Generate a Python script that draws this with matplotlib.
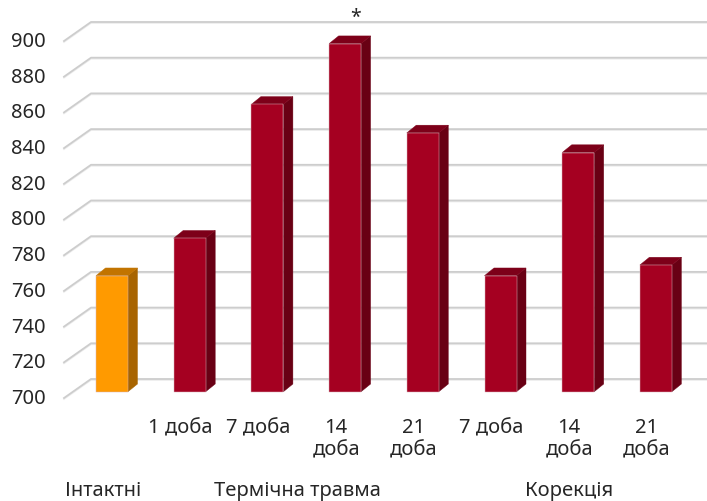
import matplotlib.pyplot as plt
from matplotlib.patches import Polygon

plt.rcParams["font.family"] = ["Noto Sans", "DejaVu Sans"]

# ----------------------------------------------------------
# Data
# ----------------------------------------------------------

tick_labels = ["", "1 доба", "7 доба", "14\nдоба", "21\nдоба", "7 доба", "14\nдоба", "21\nдоба"]
values = [765, 786, 861, 895, 845, 765, 834, 771]
is_intact = [True, False, False, False, False, False, False, False]
groups = ["Інтактні", "Термічна травма", "Корекція"]
group_members = [[0], [1, 2, 3, 4], [5, 6, 7]]
significant = [3]
y_ticks = [700, 720, 740, 760, 780, 800, 820, 840, 860, 880, 900]

# ----------------------------------------------------------
# Pixel geometry (Excel-like 3D column chart)
# ----------------------------------------------------------

W, H = 707, 502
CAT_PX = 77.7        # pixels per category
VAL_PX = 1.785       # pixels per value unit
X0_PX = 112          # pixel x of category 0 (bar front centre)
BASE_PX = 392.7      # pixel y of value 700 on bar plane
BASE = 700

def px_x(p):
    return p / CAT_PX

def px_y(p):
    return p / VAL_PX

xmin = (0 - X0_PX) / CAT_PX
xmax = (W - X0_PX) / CAT_PX
ymax = BASE + BASE_PX / VAL_PX
ymin = BASE - (H - BASE_PX) / VAL_PX

back_dx, back_dy = px_x(18), px_y(12.7)
front_dx, front_dy = px_x(-9), px_y(-6.3)
half_w = px_x(16)
depth_dx, depth_dy = px_x(9.5), px_y(7.7)

colors = {
    True: ("#ff9a00", "#a86400", "#c27400"),
    False: ("#a50021", "#690014", "#7d0019"),
}

fig = plt.figure(figsize=(W / 100, H / 100), dpi=100)
ax = fig.add_axes([0, 0, 1, 1])
ax.set_xlim(xmin, xmax)
ax.set_ylim(ymin, ymax)
ax.axis("off")

# ----------------------------------------------------------
# Grid (perspective wall + floor edge)
# ----------------------------------------------------------

left_bar = xmin + px_x(73)
for v in y_ticks:
    xs = [left_bar + front_dx, left_bar + back_dx, xmax]
    ys = [v + front_dy, v + back_dy, v + back_dy]
    ax.plot(xs, [y - px_y(1) for y in ys], color="#ececec", lw=1.2, zorder=1)
    ax.plot(xs, ys, color="#cdcdcd", lw=1.3, zorder=1.1)
    ax.text(xmin + px_x(46), v + front_dy, str(v), ha="right", va="center",
            fontsize=14.5, color="#262626")

# ----------------------------------------------------------
# Bars
# ----------------------------------------------------------

for i, (v, intact) in enumerate(zip(values, is_intact)):
    front_c, side_c, top_c = colors[intact]
    x0, x1 = i - half_w, i + half_w
    front = Polygon([(x0, BASE), (x1, BASE), (x1, v), (x0, v)],
                    closed=True, facecolor=front_c, edgecolor="#d8b4bb", lw=0.35, zorder=3)
    side = Polygon([(x1, BASE), (x1 + depth_dx, BASE + depth_dy),
                    (x1 + depth_dx, v + depth_dy), (x1, v)],
                   closed=True, facecolor=side_c, edgecolor=side_c, lw=0.3, zorder=3)
    top = Polygon([(x0, v), (x1, v), (x1 + depth_dx, v + depth_dy),
                   (x0 + depth_dx, v + depth_dy)],
                  closed=True, facecolor=top_c, edgecolor=top_c, lw=0.3, zorder=3)
    for p in (side, top, front):
        ax.add_patch(p)

for i in significant:
    ax.text(i + px_x(10), values[i] + px_y(27), "*", ha="center", va="center",
            fontsize=14, color="#262626")

# ----------------------------------------------------------
# Category and group labels
# ----------------------------------------------------------

label_top = BASE - px_y(418 - BASE_PX)
for i, lab in enumerate(tick_labels):
    ax.text(i + front_dx, label_top, lab, ha="center", va="top",
            fontsize=14.5, color="#262626", linespacing=1.15)

group_y = BASE - px_y(491 - BASE_PX)
for name, members in zip(groups, group_members):
    cx = sum(members) / len(members) + front_dx
    ax.text(cx, group_y, name, ha="center", va="center",
            fontsize=14.5, color="#262626")

fig.savefig("out.png", dpi=100)
